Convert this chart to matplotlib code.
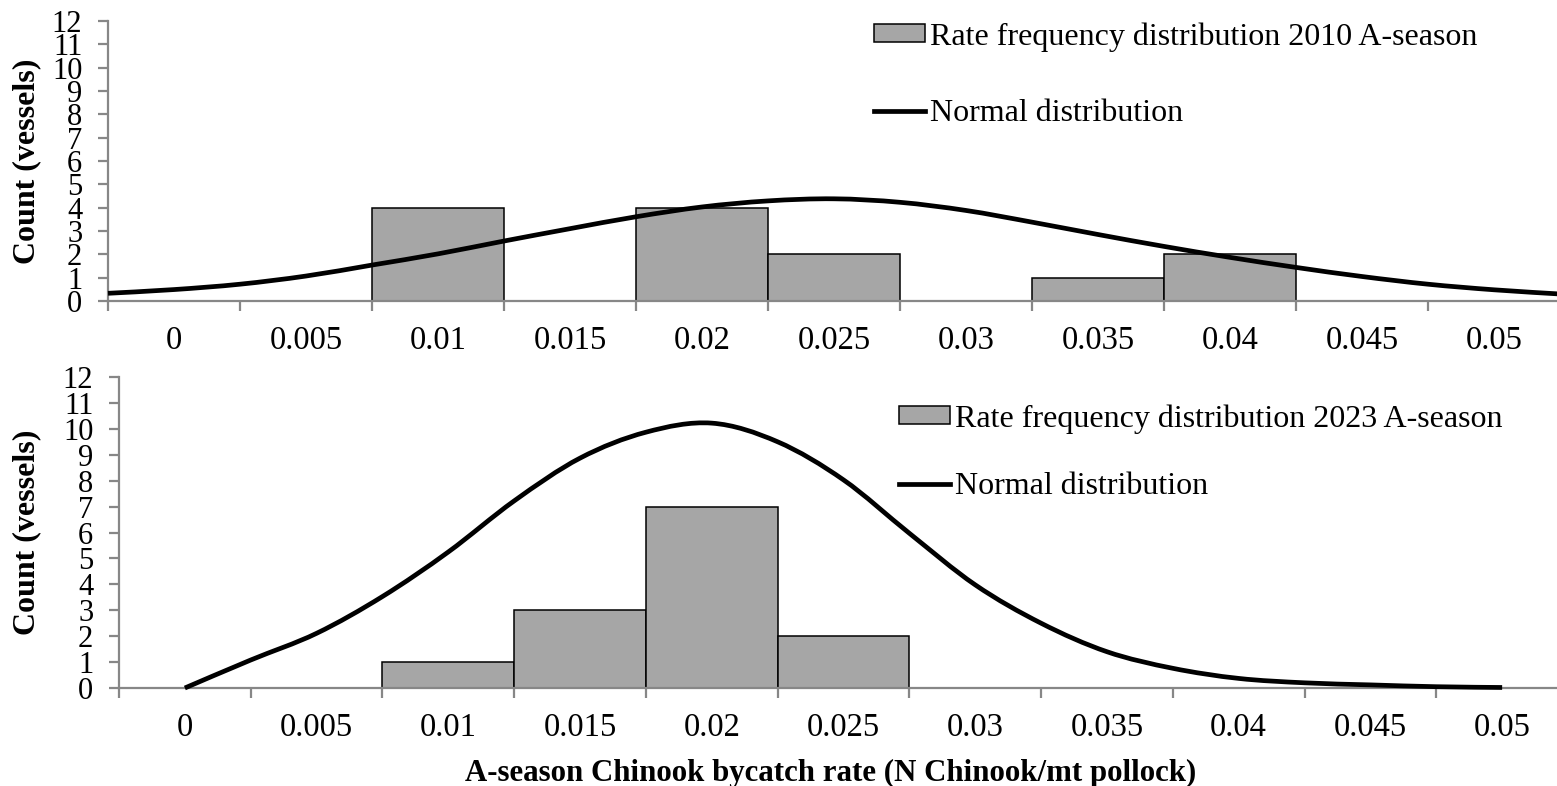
import matplotlib.pyplot as plt
import numpy as np
from matplotlib.lines import Line2D
from matplotlib.patches import Patch, PathPatch
from matplotlib.path import Path


# DATA
RATE_BINS = [0.0, 0.005, 0.01, 0.015, 0.02, 0.025, 0.03, 0.035, 0.04, 0.045, 0.05]
BIN_LABELS = ["0", "0.005", "0.01", "0.015", "0.02", "0.025",
              "0.03", "0.035", "0.04", "0.045", "0.05"]

COUNTS_2010 = [0, 0, 4, 0, 4, 2, 0, 1, 2, 0, 0]
COUNTS_2023 = [0, 0, 1, 3, 7, 2, 0, 0, 0, 0, 0]

# normal curves
CURVE_2010_X = [-0.0025, 0.0, 0.0025, 0.005, 0.0075, 0.01, 0.0125, 0.015,
                0.0175, 0.02, 0.0225, 0.025, 0.0275, 0.03, 0.0325, 0.035,
                0.0375, 0.04, 0.0425, 0.045, 0.0475, 0.05, 0.0525]
CURVE_2010_Y = [0.33, 0.49, 0.72, 1.07, 1.54, 2.02, 2.57, 3.10,
                3.61, 4.03, 4.29, 4.38, 4.23, 3.88, 3.38, 2.85,
                2.34, 1.87, 1.44, 1.05, 0.72, 0.48, 0.30]

CURVE_2023_X = [0.0, 0.0025, 0.005, 0.0075, 0.01, 0.0125, 0.015, 0.0175,
                0.02, 0.0225, 0.025, 0.0275, 0.03, 0.0325, 0.035,
                0.0375, 0.04, 0.0425, 0.045, 0.0475, 0.05]
CURVE_2023_Y = [0.0, 1.08, 2.11, 3.53, 5.25, 7.22, 8.87, 9.87,
                10.22, 9.50, 8.03, 5.97, 3.98, 2.50, 1.40,
                0.76, 0.37, 0.20, 0.12, 0.05, 0.02]

BIN_WIDTH = 0.005
AXIS_GREY = "#878787"
BAR_GREY = "#A6A6A6"
FONT = "Liberation Serif"

W, H = 1557, 786


def px_box(left, right, top, bottom):
    return [left / W, 1 - bottom / H, (right - left) / W, (bottom - top) / H]


def smoothed_path(x_values, y_values):
    # smoothed line through the points, like the spreadsheet's "smooth line"
    points = np.column_stack([x_values, y_values])
    padded = np.vstack([points[0], points, points[-1]])

    vertices = [points[0]]
    codes = [Path.MOVETO]
    for i in range(len(points) - 1):
        p0, p1, p2, p3 = padded[i], padded[i + 1], padded[i + 2], padded[i + 3]
        vertices += [p1 + (p2 - p0) / 6, p2 - (p3 - p1) / 6, p2]
        codes += [Path.CURVE4] * 3

    return Path(vertices, codes)


# PANEL
def draw_panel(axis, counts, curve_x, curve_y, season_label,
               legend_anchor, legend_spacing):
    axis.bar(
        RATE_BINS,
        counts,
        width=BIN_WIDTH,
        color=BAR_GREY,
        edgecolor="black",
        linewidth=1.1,
        zorder=2,
    )

    axis.add_patch(
        PathPatch(
            smoothed_path(curve_x, curve_y),
            facecolor="none",
            edgecolor="black",
            linewidth=3.4,
            capstyle="butt",
            zorder=3,
            clip_on=False,
        )
    )

    axis.set_xlim(RATE_BINS[0] - BIN_WIDTH / 2, RATE_BINS[-1] + BIN_WIDTH / 2)
    axis.set_ylim(0, 12)

    for side in ["top", "right"]:
        axis.spines[side].set_visible(False)
    for side in ["left", "bottom"]:
        axis.spines[side].set_color(AXIS_GREY)
        axis.spines[side].set_linewidth(1.6)

    axis.set_xticks(RATE_BINS)
    axis.set_xticklabels(BIN_LABELS, fontsize=23.5, family=FONT)
    edges = [value - BIN_WIDTH / 2 for value in RATE_BINS] + [RATE_BINS[-1] + BIN_WIDTH / 2]
    axis.set_xticks(edges, minor=True)
    axis.tick_params(axis="x", which="major", length=0, pad=18)
    axis.tick_params(axis="x", which="minor", length=7.5, width=1.6,
                     color=AXIS_GREY, direction="out")

    axis.set_yticks(range(0, 13))
    axis.set_yticklabels([str(v) for v in range(0, 13)], fontsize=22, family=FONT)
    axis.tick_params(axis="y", length=7.5, width=1.6, color=AXIS_GREY,
                     direction="out", pad=11)

    handles = [
        Patch(facecolor=BAR_GREY, edgecolor="black", linewidth=1.1),
        Line2D([], [], color="black", linewidth=3.4),
    ]
    axis.legend(
        handles,
        [f"Rate frequency distribution {season_label} A-season", "Normal distribution"],
        loc="upper left",
        bbox_to_anchor=legend_anchor,
        bbox_transform=axis.figure.transFigure,
        frameon=False,
        prop={"family": FONT, "size": 23},
        handlelength=1.6,
        handleheight=0.5,
        handletextpad=0.15,
        labelspacing=legend_spacing,
        borderpad=0,
        borderaxespad=0,
    )


# MAIN
def main():
    fig = plt.figure(figsize=(W / 100, H / 100), dpi=100)

    top_axis = fig.add_axes(px_box(108, 1560, 21, 301))
    bottom_axis = fig.add_axes(px_box(119, 1568, 377, 688))

    draw_panel(top_axis, COUNTS_2010, CURVE_2010_X, CURVE_2010_Y, "2010",
               (874 / W, 1 - 22 / H), 1.5)
    draw_panel(bottom_axis, COUNTS_2023, CURVE_2023_X, CURVE_2023_Y, "2023",
               (899 / W, 1 - 404 / H), 1.2)

    for center_y in [161, 532]:
        fig.text(27 / W, 1 - center_y / H, "Count (vessels)",
                 rotation=90, ha="center", va="center",
                 fontsize=23, fontweight="bold", family=FONT)

    fig.text(831 / W, 1 - 773 / H,
             "A-season Chinook bycatch rate (N Chinook/mt pollock)",
             ha="center", va="center",
             fontsize=22.2, fontweight="bold", family=FONT)

    fig.savefig("out.png", dpi=100)


if __name__ == "__main__":
    main()
